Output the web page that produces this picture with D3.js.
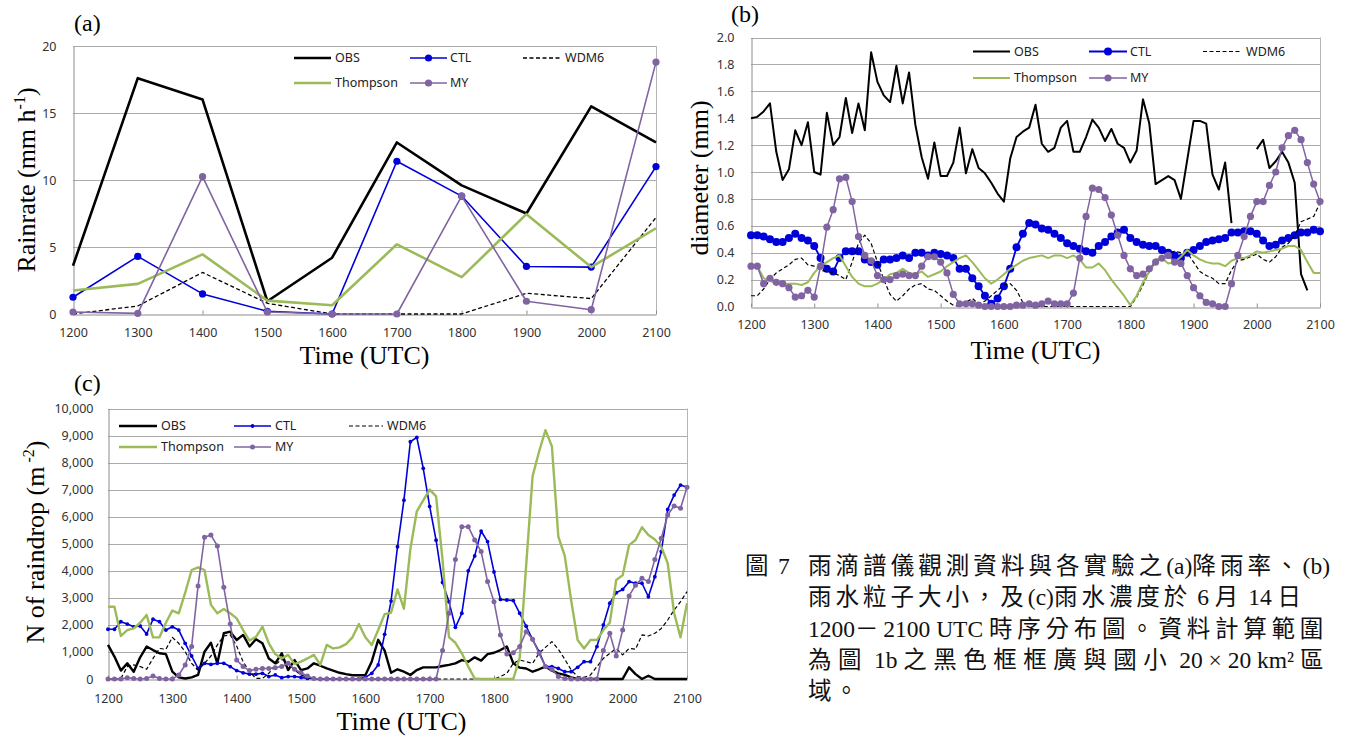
<!DOCTYPE html>
<html>
<head>
<meta charset="utf-8">
<script src="https://cdn.jsdelivr.net/npm/d3@7"></script>
<style>
  body { margin: 0; background: #fff; }
</style>
</head>
<body>
<svg id="fig" width="1349" height="740"></svg>
<script>
// ---- (a) hourly rain rate, mm/h ----
const hoursA = [1200, 1300, 1400, 1500, 1600, 1700, 1800, 1900, 2000, 2100];
const rainOBS = [3.6, 17.6, 16.0, 0.95, 4.2, 12.8, 9.6, 7.5, 15.5, 12.8];
const rainCTL = [1.25, 4.3, 1.5, 0.2, 0.0, 11.4, 8.8, 3.55, 3.5, 11.0];
const rainWDM6 = [0.0, 0.6, 3.1, 0.8, 0.0, 0.0, 0.0, 1.55, 1.15, 7.2];
const rainThompson = [1.75, 2.25, 4.45, 1.0, 0.65, 5.2, 2.75, 7.45, 3.5, 6.4];
const rainMY = [0.15, 0.05, 10.25, 0.15, 0.0, 0.0, 8.8, 0.95, 0.32, 18.8];

// ---- (b) mean diameter, mm, every 6 min from 1200 to 2100 ----
const diaOBS = [1.40,1.41,1.45,1.51,1.15,0.94,1.02,1.31,1.20,1.37,
  1.00,0.98,1.44,1.20,1.26,1.55,1.29,1.51,1.31,1.89,
  1.67,1.57,1.52,1.79,1.51,1.74,1.35,1.11,0.95,1.22,
  0.97,0.97,1.07,1.33,0.99,1.17,1.03,0.99,0.92,0.84,
  0.78,1.10,1.26,1.30,1.33,1.50,1.21,1.15,1.18,1.33,
  1.38,1.15,1.15,1.26,1.39,1.33,1.23,1.32,1.21,1.18,
  1.07,1.16,1.54,1.36,0.91,0.94,0.97,0.94,0.80,1.09,
  1.38,1.38,1.36,0.98,0.87,1.07,0.62,null,null,null,
  1.17,1.24,1.03,1.08,1.15,1.07,0.92,0.24,0.12,null,null];
const diaCTL = [0.53,0.53,0.52,0.50,0.48,0.48,0.51,0.54,0.51,0.49,
  0.45,0.36,0.28,0.26,0.36,0.41,0.41,0.41,0.35,0.33,
  0.31,0.35,0.35,0.36,0.38,0.36,0.40,0.40,0.38,0.40,
  0.39,0.38,0.36,0.28,0.28,0.21,0.15,0.08,0.02,0.06,
  0.15,0.28,0.44,0.54,0.62,0.61,0.58,0.57,0.54,0.51,
  0.47,0.45,0.43,0.41,0.40,0.45,0.48,0.52,0.55,0.57,
  0.51,0.48,0.46,0.45,0.45,0.42,0.40,0.38,0.36,0.40,
  0.42,0.45,0.48,0.49,0.50,0.51,0.55,0.55,0.56,0.56,
  0.54,0.49,0.45,0.46,0.49,0.51,0.53,0.55,0.55,0.57,0.56];
const diaWDM6 = [0.08,0.08,0.13,0.20,0.25,0.28,0.31,0.35,0.36,0.31,
  0.30,0.27,0.26,0.25,0.23,0.20,0.33,0.47,0.53,0.47,
  0.33,0.20,0.09,0.04,0.08,0.13,0.16,0.17,0.13,0.12,
  0.08,0.04,0.01,0.00,0.03,0.06,0.02,0.04,0.08,0.12,
  0.16,0.17,0.12,0.03,0,0,0,0,0,0,
  0,0,0,0,0,0,0,0,0,0,
  0.00,0.07,0.16,0.26,0.33,0.37,0.40,0.41,0.40,0.40,
  0.33,0.26,0.23,0.21,0.17,0.17,0.27,0.34,0.35,0.37,
  0.39,0.35,0.33,0.37,0.44,0.47,0.53,0.63,0.65,0.67,0.77];
const diaThompson = [0.30,0.30,0.21,0.19,0.17,0.17,0.17,0.17,0.16,0.18,
  0.25,0.30,0.33,0.36,0.38,0.30,0.22,0.17,0.15,0.15,
  0.17,0.20,0.24,0.25,0.28,0.25,0.24,0.26,0.22,0.24,
  0.26,0.30,0.33,0.36,0.38,0.33,0.27,0.21,0.17,0.20,
  0.24,0.28,0.31,0.34,0.36,0.37,0.38,0.36,0.38,0.38,
  0.36,0.38,0.35,0.29,0.29,0.32,0.27,0.20,0.14,0.08,
  0.01,0.08,0.18,0.26,0.35,0.36,0.32,0.33,0.37,0.42,
  0.38,0.35,0.33,0.32,0.32,0.30,0.34,0.36,0.36,0.38,
  0.41,0.40,0.41,0.42,0.43,0.45,0.45,0.42,0.33,0.25,0.25];
const diaMY = [0.30,0.30,0.17,0.21,0.18,0.17,0.14,0.07,0.08,0.12,
  0.07,0.30,0.59,0.72,0.95,0.96,0.78,0.52,0.38,0.34,
  0.23,0.20,0.20,0.23,0.24,0.23,0.23,0.30,0.37,0.37,
  0.33,0.25,0.09,0.02,0.02,0.02,0.01,0.00,0.00,0.00,
  0.00,0.00,0.01,0.01,0.02,0.01,0.02,0.04,0.02,0.02,
  0.02,0.10,0.36,0.67,0.88,0.87,0.81,0.68,0.53,0.38,
  0.28,0.23,0.24,0.28,0.33,0.36,0.38,0.33,0.32,0.23,
  0.14,0.08,0.03,0.02,0.00,0.00,0.17,0.38,0.52,0.67,
  0.78,0.78,0.90,1.00,1.18,1.27,1.31,1.24,1.07,0.91,0.78];

// ---- (c) number of raindrops, m^-2, every 6 min ----
const numOBS = [1260,830,310,580,270,800,1200,1070,950,920,
  270,60,20,60,150,1010,1340,580,1690,1750,
  1440,1630,1200,1470,1320,760,580,950,330,700,
  330,390,580,490,390,310,230,180,140,140,
  140,650,1450,1050,230,360,270,150,330,430,
  430,430,480,520,580,700,640,800,680,920,
  970,1070,1200,580,420,390,270,360,460,310,
  210,150,60,0,0,0,0,0,0,0,
  0,430,180,0,120,0,0,0,0,0,0];
const numCTL = [1840,1840,2120,2030,1930,1960,1660,2210,2120,1810,
  1930,1810,1320,850,390,580,540,580,580,460,
  310,230,180,180,210,90,150,50,90,90,
  60,20,20,0,20,0,0,0,0,10,
  60,210,520,1650,2880,4890,6610,8770,8930,7790,
  6380,5130,3570,2860,1910,2430,4000,4550,5470,5080,
  3960,2940,2920,2900,2430,1950,1460,1010,460,460,
  390,270,270,430,640,640,1200,2000,2800,3190,
  3310,3600,3540,3540,3040,3780,4710,6270,6800,7170,7090];
const numWDM6 = [0,0,20,460,520,460,360,760,1130,1100,
  1540,1320,1010,580,330,580,850,1260,1590,1630,
  1220,640,270,20,20,210,520,730,580,330,
  150,60,10,0,0,0,0,0,0,0,
  0,0,0,0,0,0,0,0,0,0,
  0,0,0,0,0,0,0,0,0,0,
  0,90,210,580,700,640,580,950,1170,1380,
  1100,730,330,90,60,150,460,760,950,1130,
  890,1130,1100,1630,1590,1690,1870,2180,2550,2860,3230];
const numThompson = [2670,2670,1590,1810,1870,2080,2370,1540,1540,2080,
  2530,2430,3190,4030,4130,4030,2740,2430,2590,2430,
  2240,1810,1420,1560,1930,1320,920,760,890,550,
  640,760,890,520,1260,1130,1170,1290,1540,2030,
  1540,1260,1810,2400,2450,3310,2600,4800,6200,6600,
  7000,6750,4400,1550,1340,950,460,20,0,0,
  0,0,0,0,800,4200,7500,8400,9200,8600,
  5260,4550,2900,1440,1130,1440,1440,1810,2080,3660,
  3840,4950,5140,5610,5320,5160,4890,4280,2430,1540,2800];
const numMY = [0,0,0,50,20,0,20,110,20,0,
  0,150,520,1200,3440,5240,5320,4920,3390,2030,
  700,460,310,360,390,390,420,460,580,360,
  230,110,20,0,0,0,0,0,0,0,
  0,0,0,0,0,0,0,0,0,0,
  0,0,1050,2430,4420,5630,5630,5140,4710,3600,
  2860,1630,920,970,1200,1750,1470,950,460,360,
  90,20,0,0,0,0,0,1050,1690,850,
  1810,3070,3470,3720,3600,4420,5200,6060,6400,6310,7090];

const hourLabels = [1200, 1300, 1400, 1500, 1600, 1700, 1800, 1900, 2000, 2100];
const captionLines = [
  '雨滴譜儀觀測資料與各實驗之(a)降雨率、(b)',
  '雨水粒子大小，及(c)雨水濃度於 6 月 14 日',
  '1200－2100 UTC 時序分布圖。資料計算範圍',
  '為圖 1b 之黑色框框廣與國小 20 × 20 km² 區',
  '域。'
];

const SERIF = "'Liberation Serif','Times New Roman',serif";
const SANS = "'Noto Sans','Open Sans',sans-serif";
const CAPFONT = "'Liberation Serif','Noto Sans CJK TC',serif";

const colors = {OBS: '#000000', CTL: '#0000d8', WDM6: '#000000', Thompson: '#9bbb59', MY: '#8064a2'};

const svg = d3.select('#fig');
svg.append('rect').attr('width', 1349).attr('height', 740).attr('fill', '#fff');

function panel(o) {
  const g = svg.append('g');
  const x = d3.scaleLinear().domain(o.xDomain).range([o.left, o.right]);
  const y = d3.scaleLinear().domain(o.yDomain).range([o.bottom, o.top]);

  // horizontal gridlines
  g.selectAll('line.grid').data(o.yTicks.slice(1)).join('line')
    .attr('x1', o.left).attr('x2', o.right)
    .attr('y1', d => Math.round(y(d)) + 0.5).attr('y2', d => Math.round(y(d)) + 0.5)
    .attr('stroke', '#ababab').attr('stroke-width', 1);
  // right border of the plot area
  g.append('line')
    .attr('x1', Math.round(o.right) + 0.5).attr('x2', Math.round(o.right) + 0.5)
    .attr('y1', o.top).attr('y2', o.bottom)
    .attr('stroke', '#b5b5b5');

  const yAxis = d3.axisLeft(y).tickValues(o.yTicks).tickFormat(o.yFormat)
    .tickSize(0).tickPadding(o.yPad);
  const ya = g.append('g').attr('transform', `translate(${Math.round(o.left) + 0.5},0)`).call(yAxis);
  ya.select('.domain').attr('stroke', '#8c8c8c');
  ya.selectAll('text').attr('font-family', SANS).attr('font-size', 12.5).attr('fill', '#333');

  const xAxis = d3.axisBottom(x).tickValues(o.xTicks).tickFormat(o.xFormat)
    .tickSizeInner(-4).tickSizeOuter(0).tickPadding(o.xPad);
  const xa = g.append('g').attr('transform', `translate(0,${Math.round(o.bottom) + 0.5})`).call(xAxis);
  xa.select('.domain').attr('stroke', '#8c8c8c');
  xa.selectAll('.tick line').attr('stroke', '#8c8c8c');
  xa.selectAll('text').attr('font-family', SANS).attr('font-size', 12.5).attr('fill', '#333');

  // series
  o.series.forEach(s => {
    const st = o.style[s.name];
    const line = d3.line()
      .defined(d => d != null)
      .x((d, i) => x(o.xs[i]))
      .y(d => y(d));
    g.append('path').datum(s.values)
      .attr('d', line)
      .attr('fill', 'none')
      .attr('stroke', colors[s.name])
      .attr('stroke-width', st.w)
      .attr('stroke-dasharray', st.dash || null)
      .attr('stroke-linejoin', 'round');
    if (st.r) {
      g.selectAll(null).data(s.values.map((v, i) => [o.xs[i], v]).filter(d => d[1] != null))
        .join('circle')
        .attr('cx', d => x(d[0])).attr('cy', d => y(d[1]))
        .attr('r', st.r).attr('fill', colors[s.name]);
    }
  });

  // legend
  o.legend.forEach(l => {
    const st = o.style[l.name];
    g.append('line')
      .attr('x1', l.x1).attr('x2', l.x2).attr('y1', l.y).attr('y2', l.y)
      .attr('stroke', colors[l.name]).attr('stroke-width', st.w)
      .attr('stroke-dasharray', st.dash || null);
    if (st.r) {
      g.append('circle').attr('cx', (l.x1 + l.x2) / 2).attr('cy', l.y)
        .attr('r', st.r).attr('fill', colors[l.name]);
    }
    g.append('text').attr('x', l.tx).attr('y', l.y).attr('dy', '0.35em')
      .attr('font-family', SANS).attr('font-size', 12.5).attr('fill', '#222')
      .text(l.name);
  });

  // axis titles
  g.append('text').attr('x', (o.left + o.right) / 2 + o.xTitleDx).attr('y', o.xTitleY)
    .attr('text-anchor', 'middle').attr('font-family', SERIF).attr('font-size', 26)
    .text('Time (UTC)');
  const yt = g.append('text')
    .attr('transform', `translate(${o.yTitleX},${o.yTitleY}) rotate(-90)`)
    .attr('text-anchor', 'middle').attr('font-family', SERIF).attr('font-size', 26);
  yt.append('tspan').text(o.yTitle[0]);
  if (o.yTitle[1]) {
    yt.append('tspan').attr('dy', -10).attr('font-size', 16).text(o.yTitle[1]);
    yt.append('tspan').attr('dy', 10).text(o.yTitle[2]);
  }
  g.append('text').attr('x', o.tagX).attr('y', o.tagY)
    .attr('font-family', SERIF).attr('font-size', 24).text(o.tag);
}

function legendRows(rowY, cols) {
  // cols: [x1, x2, textX] for the three columns
  return [
    {name: 'OBS', y: rowY[0], x1: cols[0][0], x2: cols[0][1], tx: cols[0][2]},
    {name: 'CTL', y: rowY[0], x1: cols[1][0], x2: cols[1][1], tx: cols[1][2]},
    {name: 'WDM6', y: rowY[0], x1: cols[2][0], x2: cols[2][1], tx: cols[2][2]},
    {name: 'Thompson', y: rowY[1], x1: cols[0][0], x2: cols[0][1], tx: cols[0][2]},
    {name: 'MY', y: rowY[1], x1: cols[1][0], x2: cols[1][1], tx: cols[1][2]}
  ];
}

const steps = d3.range(diaOBS.length);       // 6-minute sample index
const stepTicks = hourLabels.map((h, i) => i * 10);
const stepFmt = i => String(1200 + (i / 10) * 100);

// (a)
panel({
  tag: '(a)', tagX: 74, tagY: 31,
  left: 73, right: 656, top: 46, bottom: 314,
  xDomain: [1200, 2100], yDomain: [0, 20],
  xs: hoursA, xTicks: hourLabels, xFormat: d => String(d), xPad: 14,
  yTicks: [0, 5, 10, 15, 20], yFormat: d3.format('d'), yPad: 17,
  series: [
    {name: 'OBS', values: rainOBS}, {name: 'CTL', values: rainCTL},
    {name: 'WDM6', values: rainWDM6}, {name: 'Thompson', values: rainThompson},
    {name: 'MY', values: rainMY}
  ],
  style: {OBS: {w: 2.6}, CTL: {w: 1.6, r: 3.6}, WDM6: {w: 1.3, dash: '4,2.5'},
          Thompson: {w: 2.6}, MY: {w: 1.6, r: 3.6}},
  legend: legendRows([58, 83], [[294, 331, 335], [410, 447, 450], [523, 561, 565]]),
  xTitleDx: 0, xTitleY: 364,
  yTitle: ['Rainrate (mm h', '-1', ')'], yTitleX: 35, yTitleY: 180
});

// (b)
panel({
  tag: '(b)', tagX: 731, tagY: 22,
  left: 751, right: 1320, top: 37.5, bottom: 306.5,
  xDomain: [0, 90], yDomain: [0, 2],
  xs: steps, xTicks: stepTicks, xFormat: stepFmt, xPad: 13,
  yTicks: d3.range(0, 11).map(d => d / 5), yFormat: d3.format('.1f'), yPad: 17,
  series: [
    {name: 'OBS', values: diaOBS}, {name: 'CTL', values: diaCTL},
    {name: 'WDM6', values: diaWDM6}, {name: 'Thompson', values: diaThompson},
    {name: 'MY', values: diaMY}
  ],
  style: {OBS: {w: 2}, CTL: {w: 1.8, r: 4}, WDM6: {w: 1.2, dash: '4,2.5'},
          Thompson: {w: 2}, MY: {w: 1.5, r: 3.6}},
  legend: legendRows([51.5, 78], [[973, 1010, 1014], [1089, 1127, 1130], [1203, 1242, 1246]]),
  xTitleDx: 0, xTitleY: 359,
  yTitle: ['diameter (mm)'], yTitleX: 708, yTitleY: 178
});

// (c)
panel({
  tag: '(c)', tagX: 74, tagY: 391,
  left: 108, right: 687, top: 408.5, bottom: 679,
  xDomain: [0, 90], yDomain: [0, 10000],
  xs: steps, xTicks: stepTicks, xFormat: stepFmt, xPad: 14.5,
  yTicks: d3.range(0, 11).map(d => d * 1000), yFormat: d3.format(','), yPad: 15,
  series: [
    {name: 'OBS', values: numOBS}, {name: 'CTL', values: numCTL},
    {name: 'WDM6', values: numWDM6}, {name: 'Thompson', values: numThompson},
    {name: 'MY', values: numMY}
  ],
  style: {OBS: {w: 2.4}, CTL: {w: 1.6, r: 1.9}, WDM6: {w: 1.2, dash: '4,2.5'},
          Thompson: {w: 2.4}, MY: {w: 1.6, r: 2.5}},
  legend: legendRows([426, 447], [[119, 157, 161], [234, 271, 275], [349, 383, 387]]),
  xTitleDx: 4, xTitleY: 730,
  yTitle: ['N of raindrop (m', ' -2', ')'], yTitleX: 44, yTitleY: 542
});

// caption: CJK runs get extra letter spacing so each line fills its width
const cap = svg.append('g').attr('font-family', CAPFONT).attr('font-size', 23.5).attr('fill', '#111');
const cjkRe = /[\u2E80-\u9FFF\u3000-\u303F\uFF00-\uFFEF]+|[^\u2E80-\u9FFF\u3000-\u303F\uFF00-\uFFEF]+/g;
const isCJK = s => /[\u2E80-\u9FFF\u3000-\u303F\uFF00-\uFFEF]/.test(s);
const capWidths = [522, 497, 520, 522, null];

function capLine(t, x, y, width) {
  const el = cap.append('text').attr('x', x).attr('y', y);
  let n = 0;
  t.match(cjkRe).forEach(r => {
    const sp = el.append('tspan').text(r);
    if (isCJK(r)) { sp.classed('cjk', true); n += r.length; }
  });
  if (width && n) {
    const nat = el.node().getComputedTextLength();
    const ls = Math.max(0, (width - nat) / n);
    el.selectAll('tspan.cjk').attr('letter-spacing', ls);
  } else {
    el.selectAll('tspan.cjk').attr('letter-spacing', 3);
  }
}

cap.append('text').attr('x', 745).attr('y', 574).text('圖');
cap.append('text').attr('x', 778).attr('y', 574).text('7');
captionLines.forEach((t, i) => capLine(t, 808, 574 + i * 31.3, capWidths[i]));
</script>
</body>
</html>
